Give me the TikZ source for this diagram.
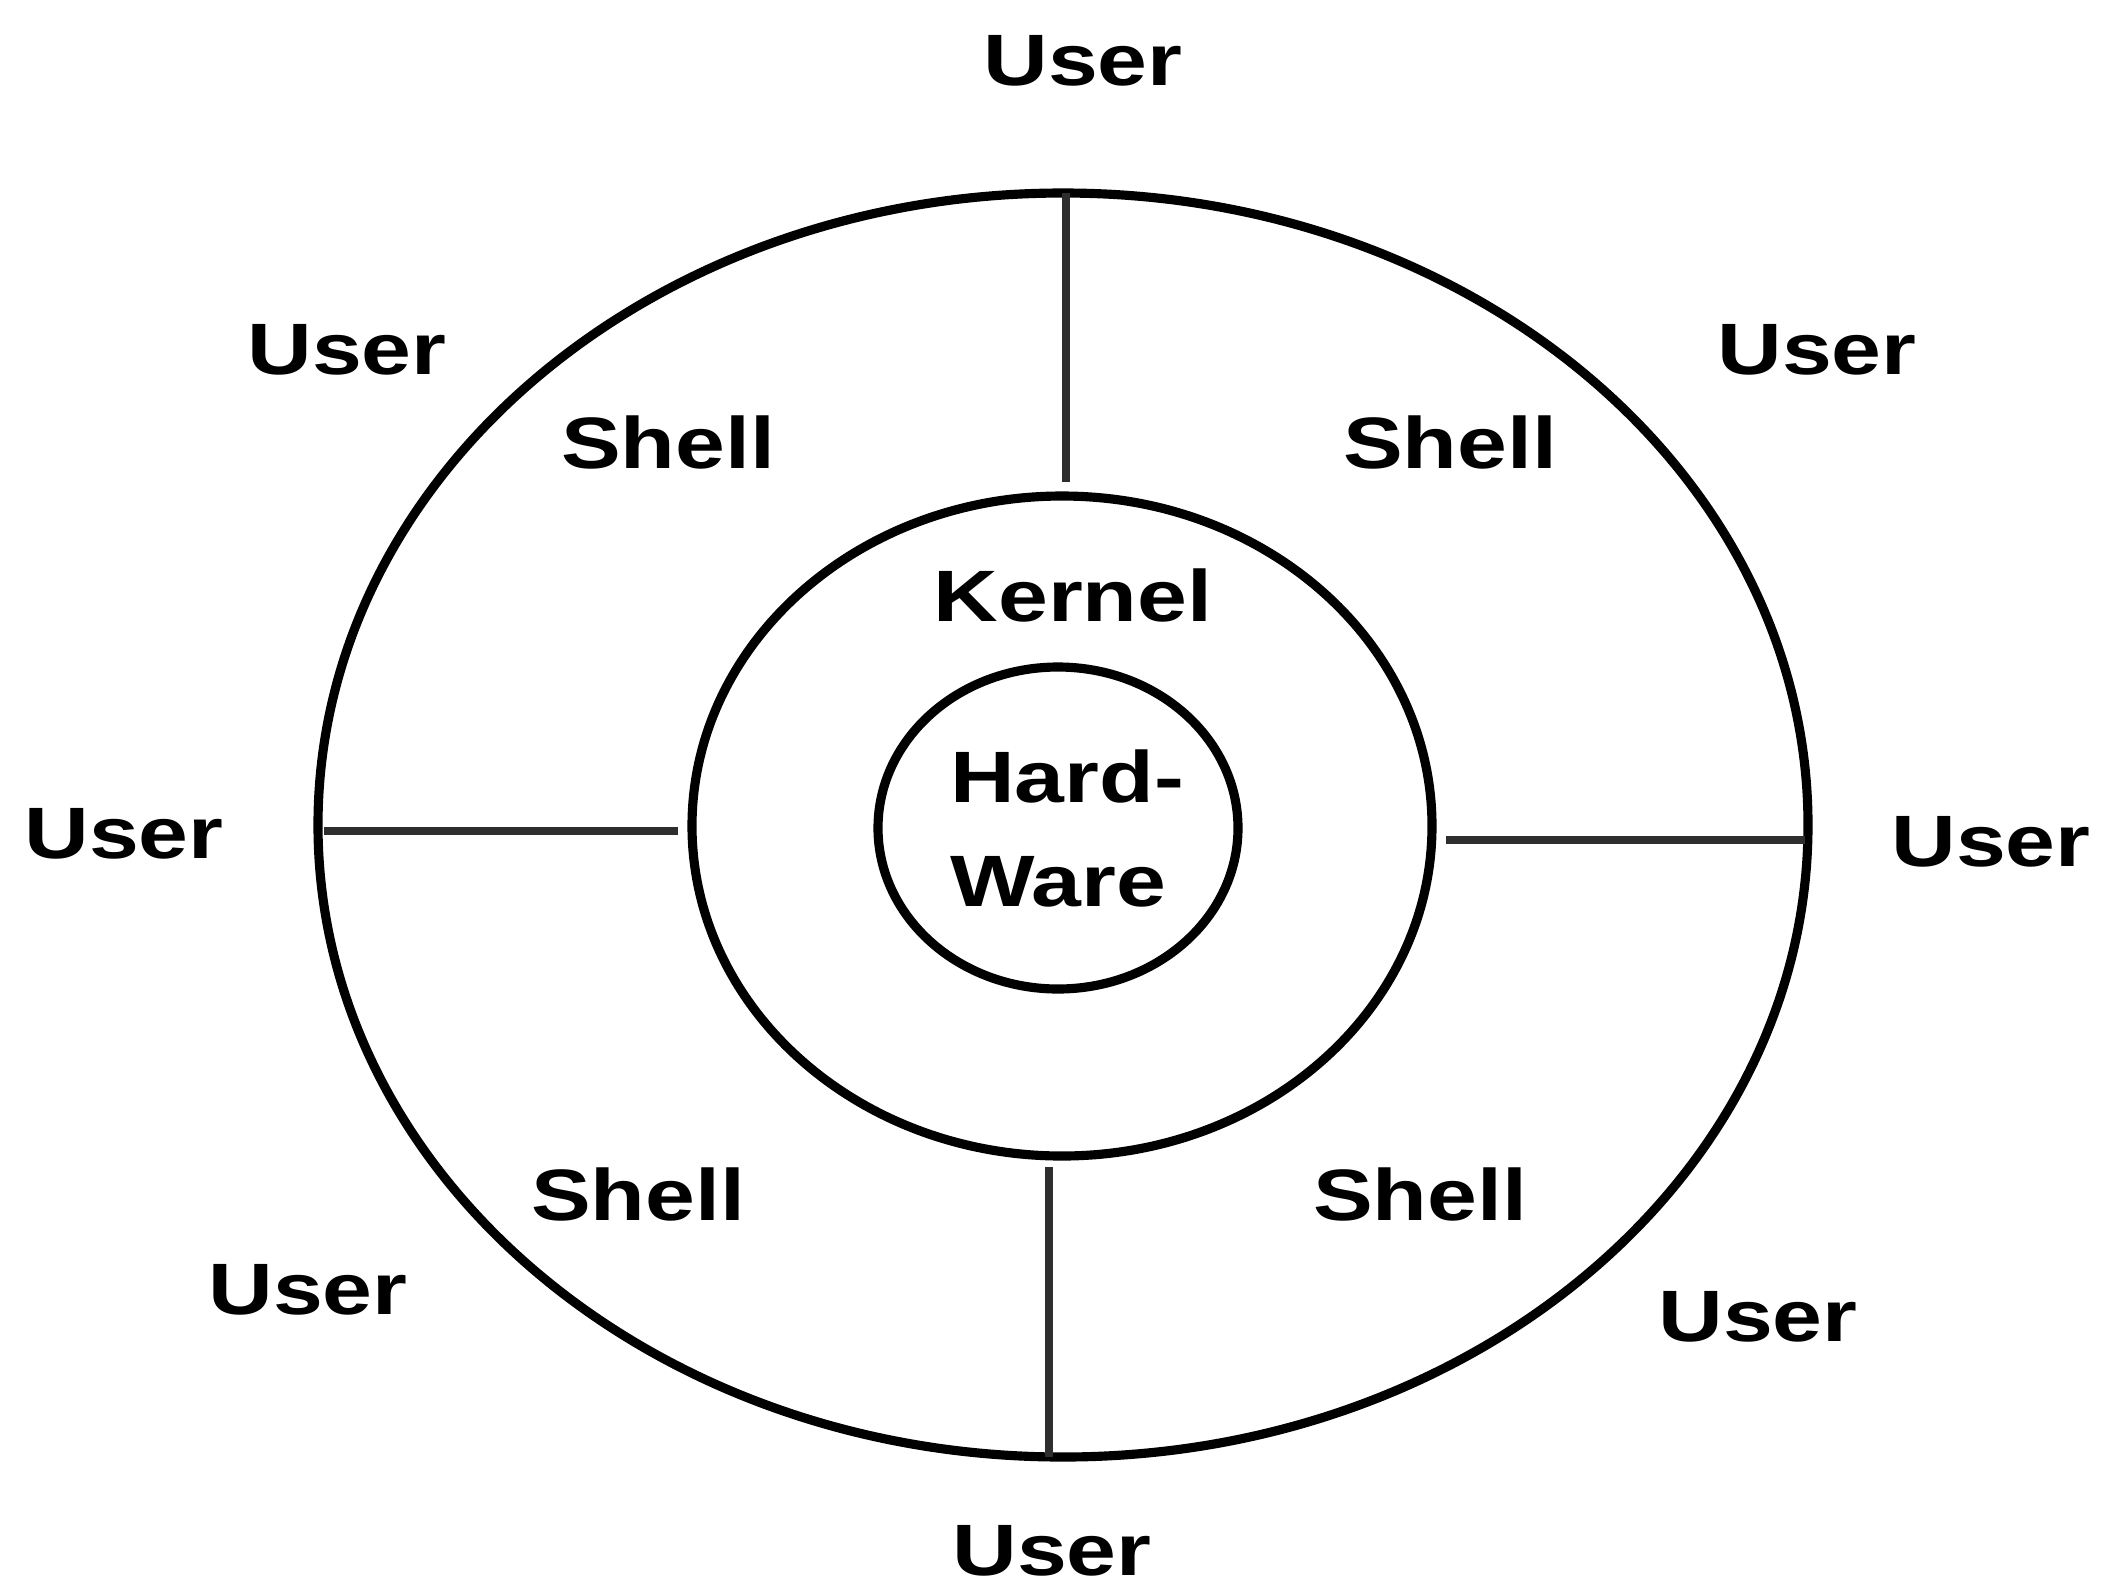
\documentclass[tikz,border=0pt]{standalone}
\usepackage{graphicx}
\usepackage{fontspec}
\setmainfont{Liberation Sans}
\tikzset{
  ring/.style={draw=black, line width=2.6pt},
  spoke/.style={draw=black!82, line width=2.3pt},
  lbl/.style={anchor=base, inner sep=0pt, font=\fontsize{20.7pt}{22pt}\selectfont\bfseries},
}
\newcommand{\widetxt}[1]{\scalebox{1.23}[1]{#1}}
\begin{document}
\begin{tikzpicture}[x=0.01cm, y=-0.01cm]
\useasboundingbox (0,0) rectangle (2115,1587);
% rings
\draw[ring] (1063,825) ellipse [x radius=745, y radius=632];
\draw[ring] (1062,826) ellipse [x radius=370, y radius=330];
\draw[ring] (1058,828) ellipse [x radius=180, y radius=161];
% spokes
\coordinate (t1) at (1066,193); \coordinate (t2) at (1066,482);
\coordinate (b1) at (1049,1167); \coordinate (b2) at (1049,1457);
\coordinate (l1) at (324,831); \coordinate (l2) at (678,831);
\coordinate (r1) at (1446,840); \coordinate (r2) at (1805,840);
\draw[spoke] (t1) -- (t2);
\draw[spoke] (b1) -- (b2);
\draw[spoke] (l1) -- (l2);
\draw[spoke] (r1) -- (r2);
% labels
\node[lbl] (ut) at (1083,85) {\widetxt{User}};
\node[lbl] (uul) at (347,374) {\widetxt{User}};
\node[lbl] (uur) at (1817,374) {\widetxt{User}};
\node[lbl] (ul) at (124,858) {\widetxt{User}};
\node[lbl] (ur) at (1991,866) {\widetxt{User}};
\node[lbl] (ull) at (308,1314) {\widetxt{User}};
\node[lbl] (ulr) at (1758,1341) {\widetxt{User}};
\node[lbl] (ub) at (1052,1575) {\widetxt{User}};
\node[lbl] (sul) at (668,468) {\widetxt{Shell}};
\node[lbl] (sur) at (1450,468) {\widetxt{Shell}};
\node[lbl] (sll) at (638,1220) {\widetxt{Shell}};
\node[lbl] (slr) at (1420,1220) {\widetxt{Shell}};
\node[lbl] (k) at (1073,621) {\widetxt{Kernel}};
\node[lbl] (h1) at (1067,802) {\widetxt{Hard-}};
\node[lbl] (h2) at (1058,906) {\widetxt{Ware}};
\end{tikzpicture}
\end{document}
